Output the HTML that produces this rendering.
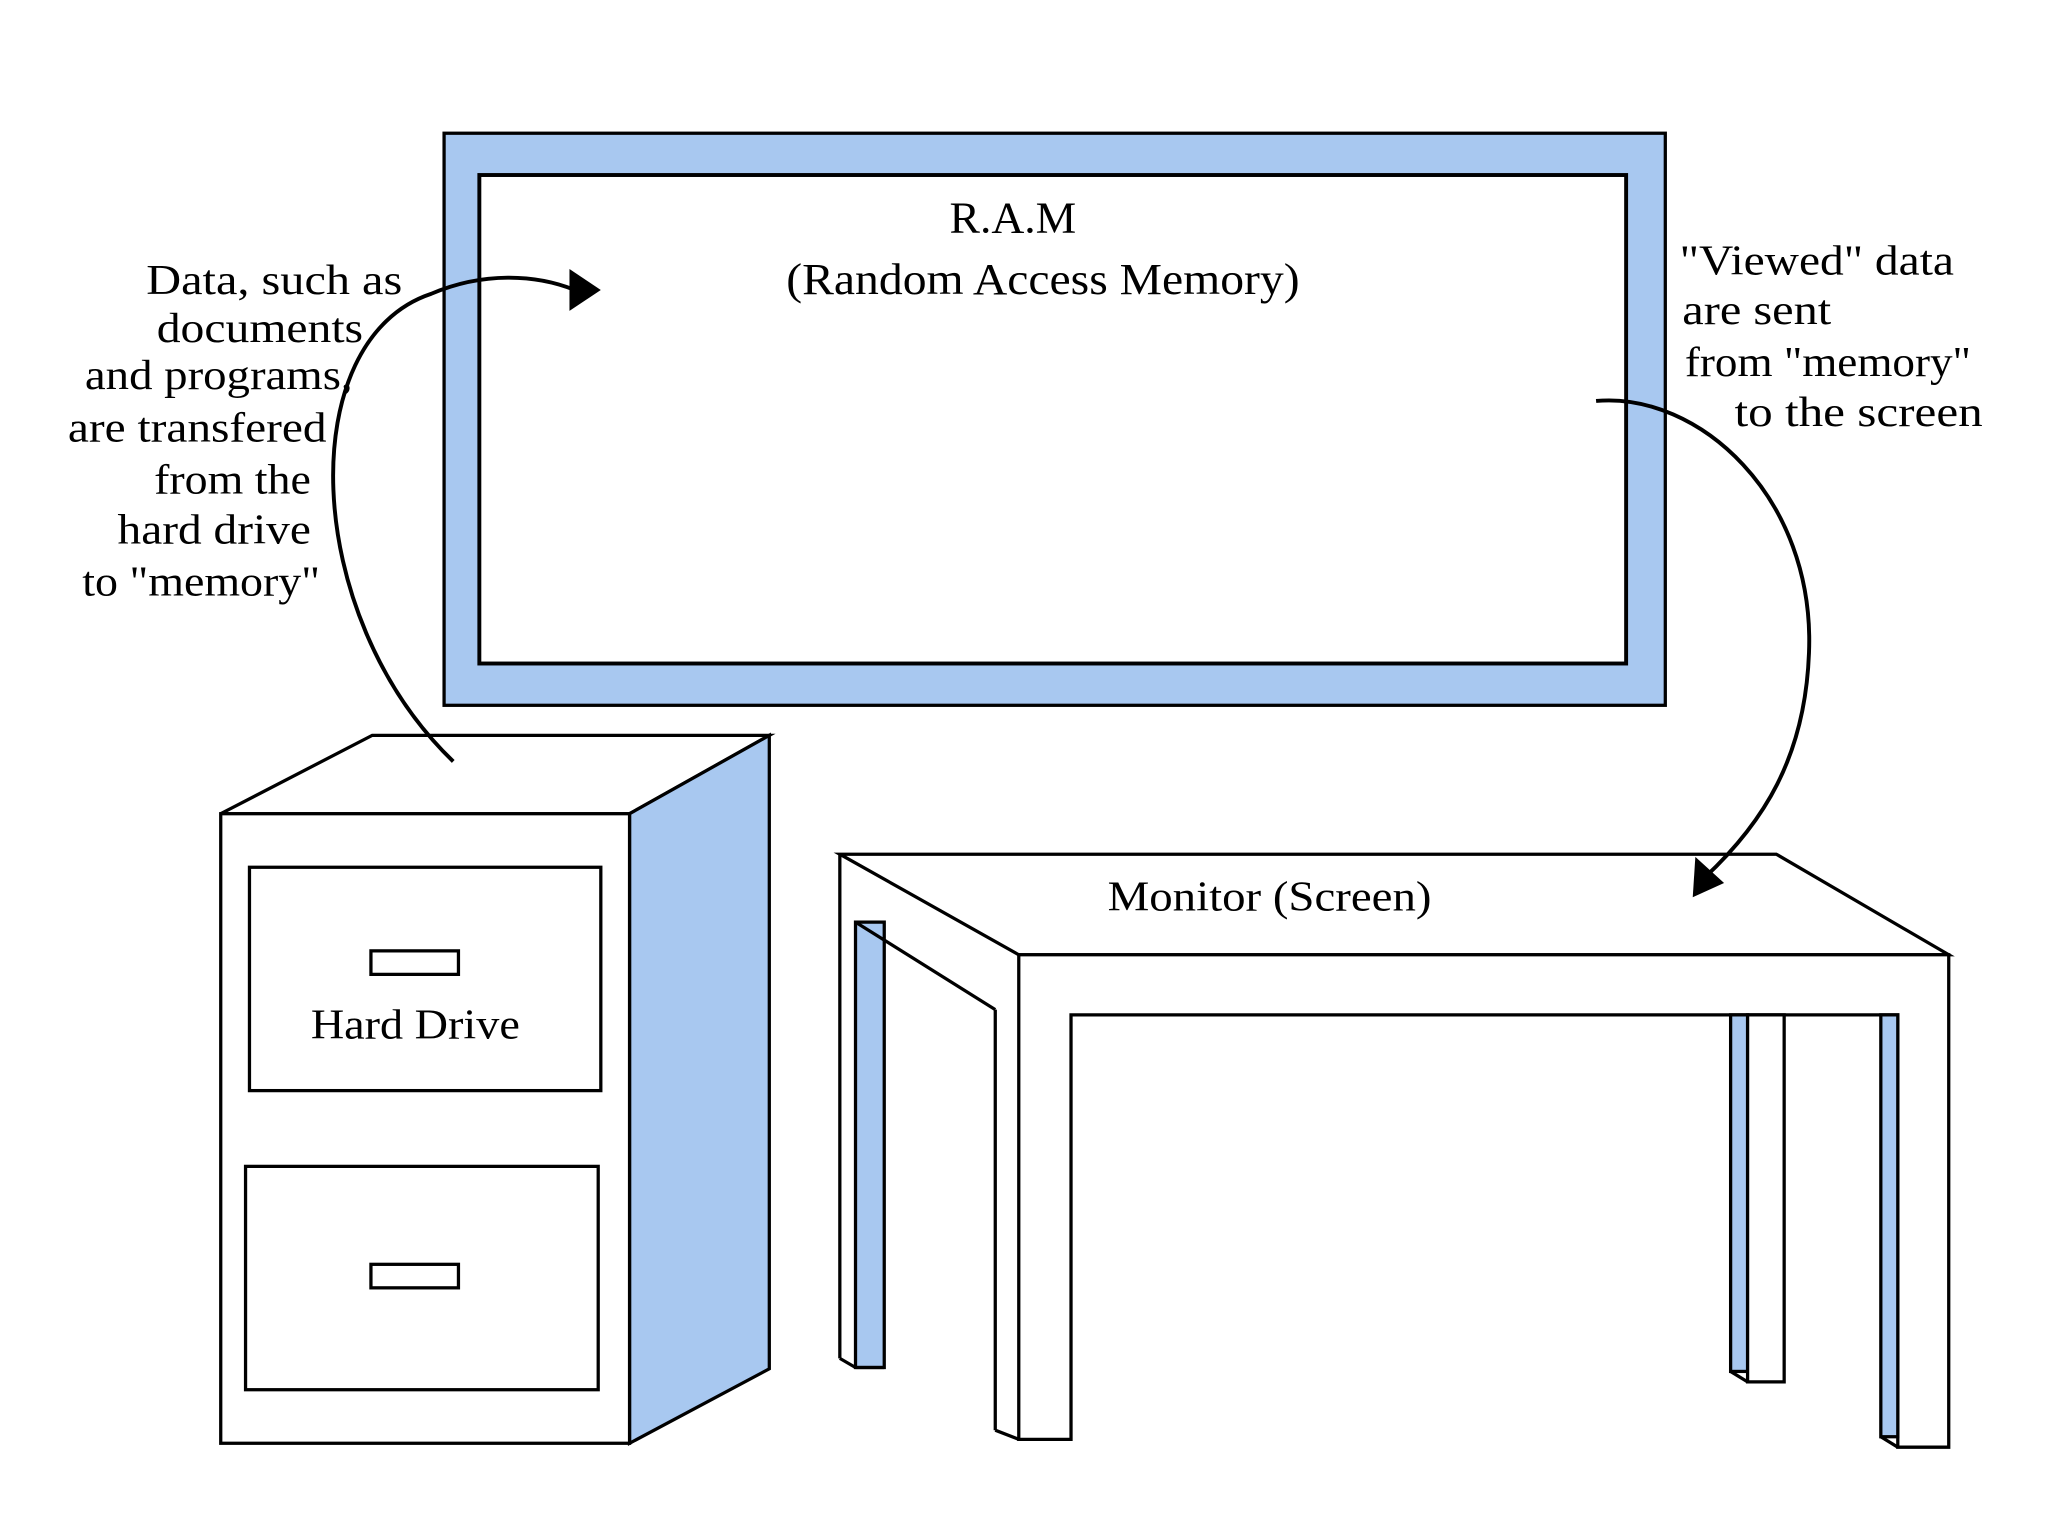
<!DOCTYPE html>
<html><head><style>html,body{margin:0;padding:0;background:#fff}svg{display:block}</style></head>
<body>
<svg width="2048" height="1536" viewBox="0 0 1568 1176" xmlns="http://www.w3.org/2000/svg" font-family="'Liberation Serif', serif" font-size="32" fill="#000">
<rect x="340" y="102" width="935" height="438" fill="#a8c8f0" stroke="#000" stroke-width="2.5"/>
<rect x="367" y="134" width="878" height="374" fill="#fff" stroke="#000" stroke-width="3"/>
<text x="727" y="178" font-size="34" textLength="97" lengthAdjust="spacingAndGlyphs">R.A.M</text>
<text x="602" y="225" font-size="34" textLength="393" lengthAdjust="spacingAndGlyphs">(Random Access Memory)</text>
<g font-size="32" lengthAdjust="spacingAndGlyphs">
<text x="112" y="225" textLength="196" lengthAdjust="spacingAndGlyphs">Data, such as</text>
<text x="120" y="262" textLength="158" lengthAdjust="spacingAndGlyphs">documents</text>
<text x="65" y="298" textLength="205" lengthAdjust="spacingAndGlyphs">and programs,</text>
<text x="52" y="338" textLength="198" lengthAdjust="spacingAndGlyphs">are transfered</text>
<text x="118" y="378" textLength="120" lengthAdjust="spacingAndGlyphs">from the</text>
<text x="90" y="416" textLength="148" lengthAdjust="spacingAndGlyphs">hard drive</text>
<text x="63" y="456" textLength="182" lengthAdjust="spacingAndGlyphs">to "memory"</text>
<text x="1286" y="210" textLength="210" lengthAdjust="spacingAndGlyphs">"Viewed" data</text>
<text x="1288" y="248" textLength="114" lengthAdjust="spacingAndGlyphs">are sent</text>
<text x="1290" y="288" textLength="219" lengthAdjust="spacingAndGlyphs">from "memory"</text>
<text x="1328" y="326" textLength="190" lengthAdjust="spacingAndGlyphs">to the screen</text>
</g>
<!-- cabinet -->
<g stroke="#000" stroke-width="2.5">
<polygon points="169,623 285,563 589,563 482,623" fill="#fff"/>
<polygon points="482,623 589,563 589,1048 482,1105" fill="#a8c8f0"/>
<rect x="169" y="623" width="313" height="482" fill="#fff"/>
<rect x="191" y="664" width="269" height="171" fill="#fff"/>
<rect x="188" y="893" width="270" height="171" fill="#fff"/>
<rect x="284" y="728" width="67" height="18" fill="#fff"/>
<rect x="284" y="968" width="67" height="18" fill="#fff"/>
</g>
<text x="238" y="795" font-size="32" textLength="160" lengthAdjust="spacingAndGlyphs">Hard Drive</text>
<!-- table -->
<g stroke="#000" stroke-width="2.5" fill="#fff">
<polygon points="643,654 1360,654 1492,731 780,731"/>
<rect x="655" y="706" width="22" height="341" fill="#a8c8f0"/>
<line x1="643" y1="654" x2="643" y2="1040"/>
<line x1="643" y1="1040" x2="655" y2="1047"/>
<line x1="655" y1="1047" x2="677" y2="1047"/>
<line x1="655" y1="706" x2="762" y2="773"/>
<line x1="762" y1="773" x2="762" y2="1095"/>
<line x1="762" y1="1095" x2="780" y2="1102"/>
<path d="M780,731 H1492 V1108 H1453 V777 H820 V1102 H780 Z"/>
<rect x="1325" y="777" width="13" height="273" fill="#a8c8f0"/>
<rect x="1338" y="777" width="28" height="281"/>
<line x1="1325" y1="1050" x2="1338" y2="1058"/>
<rect x="1440" y="777" width="13" height="323" fill="#a8c8f0"/>
<line x1="1440" y1="1100" x2="1453" y2="1108"/>
</g>
<text x="848" y="697" font-size="32" textLength="248" lengthAdjust="spacingAndGlyphs">Monitor (Screen)</text>
<!-- arrows -->
<g fill="none" stroke="#000" stroke-width="3">
<path d="M347,583 C230,470 225,260 330,225 C370,208 410,210 440,222"/>
<path d="M1222,307 C1300,300 1390,380 1385,500 C1382,580 1350,630 1305,672"/>
</g>
<polygon points="436,206 460,222 436,238" fill="#000"/>
<polygon points="1296,687 1298,656 1320,676" fill="#000"/>
</svg>
</body></html>
